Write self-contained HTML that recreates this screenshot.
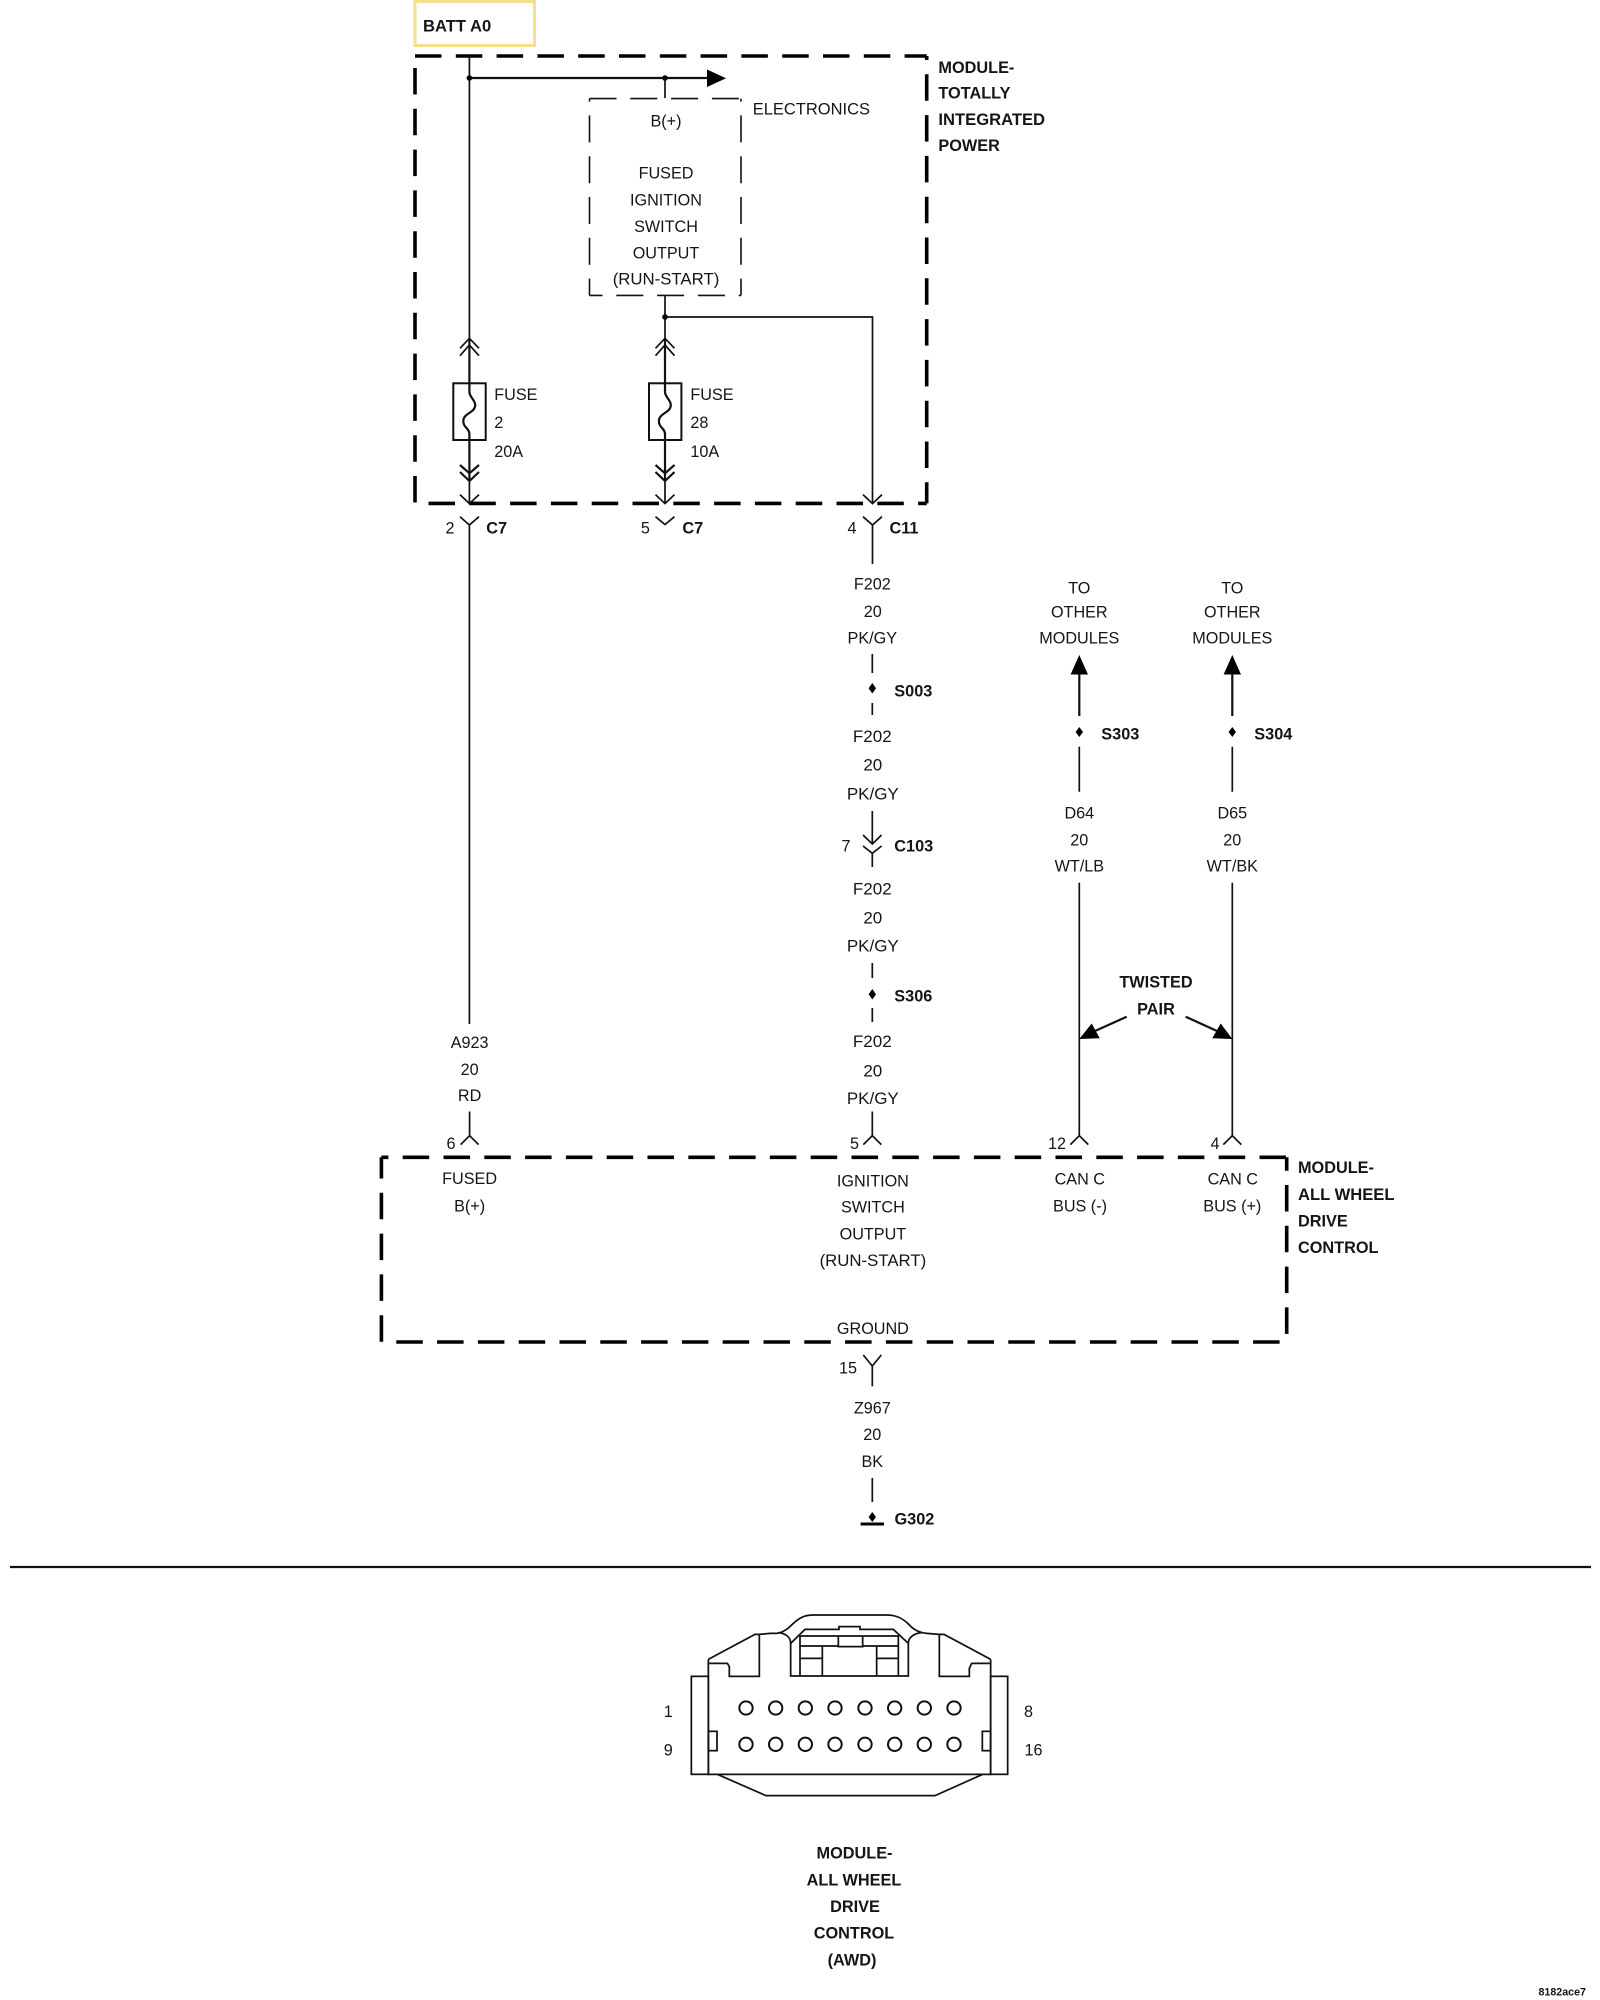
<!DOCTYPE html>
<html><head><meta charset="utf-8"><style>
html,body{margin:0;padding:0;background:#fff}
svg{display:block}
text{font-family:"Liberation Sans",sans-serif;font-size:16.2px;fill:#151515;transform:translateY(-.6px)}
.b{font-weight:bold;font-size:16.3px}
.c{text-anchor:middle}
.l{font-size:17px}
.r{font-size:16.8px}
.w{fill:none;stroke:#111;stroke-width:1.7}
.t{fill:none;stroke:#111;stroke-width:2.2}
.d{fill:none;stroke:#000;stroke-width:3.6;stroke-dasharray:26.5 14.3}
.e{fill:none;stroke:#111;stroke-width:1.6;stroke-dasharray:27 13.8}
.f{fill:#000;stroke:none}
</style></head><body>
<svg width="1600" height="2000" viewBox="0 0 1600 2000" xmlns="http://www.w3.org/2000/svg">
<rect width="1600" height="2000" fill="#fff"/>
<!-- BATT -->
<rect x="415" y="1.5" width="119.5" height="44" fill="none" stroke="#f6e08e" stroke-width="3"/>
<text class="b" x="423" y="32" style="font-size:16.6px">BATT A0</text>
<!-- Module top -->
<path class="d" d="M415 56H926.7"/>
<path class="d" d="M415 56V503.4" stroke-dashoffset="28.8"/>
<path class="d" d="M926.7 56V503.4" stroke-dashoffset="22.5"/>
<path class="d" d="M428.5 503.4H926.7"/>
<!-- Bus -->
<path class="w" d="M469.4 56V340"/>
<path class="t" d="M469.4 78H708"/>
<path class="f" d="M707 69.5L726 78.3L707 87Z"/>
<circle class="f" cx="469.4" cy="78" r="2.8"/>
<circle class="f" cx="665" cy="78" r="2.8"/>
<path class="w" d="M665 78V98"/>
<!-- Electronics box -->
<path class="e" d="M589.5 98.6H741" stroke-dashoffset="0"/>
<path class="e" d="M589.5 98.6V295.4" stroke-dashoffset="24"/>
<path class="e" d="M741 98.6V295.4" stroke-dashoffset="24"/>
<path class="e" d="M589.5 295.4H741" stroke-dashoffset="14"/>
<text x="752.7" y="115" style="font-size:16.5px">ELECTRONICS</text>
<text class="c" x="666" y="127">B(+)</text>
<text class="c" x="666" y="179">FUSED</text>
<text class="c" x="666" y="206">IGNITION</text>
<text class="c" x="666" y="232.5">SWITCH</text>
<text class="c" x="666" y="259">OUTPUT</text>
<text class="c r" x="666" y="285">(RUN-START)</text>
<!-- Wire 2 -->
<path class="w" d="M665 295V340"/>
<circle class="f" cx="665" cy="317" r="2.8"/>
<path class="w" d="M665 317H872.5V503"/>
<path class="w" d="M863 494.6L872.5 503.6L882 494.6"/>
<!-- chevrons/fuses -->
<path class="w" d="M460 348.3L469.4 338.3L479 348.3M460 355.7L469.4 345L479 355.7"/>
<path class="w" d="M655.5 348.3L665 338.3L674.5 348.3M655.5 355.7L665 345L674.5 355.7"/>
<path class="t" d="M469.4 340V384M665 340V384"/>
<rect x="453.3" y="383.3" width="32.4" height="56.7" fill="#fff" stroke="#111" stroke-width="2"/>
<rect x="649" y="383.3" width="32.4" height="56.7" fill="#fff" stroke="#111" stroke-width="2"/>
<path class="t" d="M469.4 383.3V392C469.4 397 475.2 400 475.2 405C475.2 413 463.3 413 463.3 421C463.3 428 469.4 428 469.4 434V440"/>
<path class="t" d="M665 383.3V392C665 397 670.8 400 670.8 405C670.8 413 658.9 413 658.9 421C658.9 428 665 428 665 434V440"/>
<path class="t" d="M469.4 440V480M665 440V480"/>
<path class="t" d="M460 465L469.4 473.3L479 465M460 472L469.4 481L479 472"/>
<path class="t" d="M655.5 465L665 473.3L674.5 465M655.5 472L665 481L674.5 472"/>
<path class="w" d="M469.4 481V503M665 481V503"/>
<path class="w" d="M460 494.6L469.4 503.6L479 494.6M655.5 494.6L665 503.6L674.5 494.6"/>
<text x="494.3" y="400.5">FUSE</text><text x="494.3" y="428.5">2</text><text x="494.3" y="457.5">20A</text>
<text x="690.4" y="400.5">FUSE</text><text x="690.4" y="428.5">28</text><text x="690.4" y="457.5">10A</text>
<!-- Module label -->
<text class="b" x="938.4" y="73.5">MODULE-</text><text class="b" x="938.4" y="99">TOTALLY</text><text class="b" x="938.4" y="125.5" style="font-size:16.6px">INTEGRATED</text><text class="b" x="938.4" y="151.5">POWER</text>
<!-- connectors below -->
<path class="w" d="M460 516.7L469.4 525L479 516.7M469.4 525V1024"/>
<path class="w" d="M655.5 516.7L665 524.5L674.5 516.7"/>
<path class="w" d="M863 516.7L872.5 525L882 516.7M872.5 525V564"/>
<text class="c" x="450" y="534">2</text><text class="b" x="486.3" y="534">C7</text>
<text class="c" x="645.4" y="534">5</text><text class="b" x="682.4" y="534">C7</text>
<text class="c" x="852" y="534">4</text><text class="b" x="889.5" y="534">C11</text>
<!-- F202 run -->
<text class="c" x="872.3" y="590">F202</text><text class="c" x="872.8" y="617.5">20</text><text class="c" x="872.3" y="644">PK/GY</text>
<path class="w" d="M872.3 654V673M872.3 703V715"/>
<path class="f" d="M872.3 683L876 688.3L872.3 693.5L868.6 688.3Z"/>
<text class="b" x="894.3" y="697">S003</text>
<text class="c l" x="872.3" y="742.7">F202</text><text class="c l" x="872.8" y="771">20</text><text class="c l" x="872.8" y="800">PK/GY</text>
<path class="w" d="M872.3 811V844M863 835L872.3 844L881.6 835M863 846L872.3 853.3L881.6 846M872.3 853.3V867"/>
<text class="c" x="846" y="852">7</text><text class="b" x="894.3" y="852">C103</text>
<text class="c l" x="872.3" y="895">F202</text><text class="c l" x="872.8" y="924.3">20</text><text class="c l" x="872.8" y="952">PK/GY</text>
<path class="w" d="M872.3 963V978M872.3 1008V1022"/>
<path class="f" d="M872.3 989L876 994.3L872.3 999.5L868.6 994.3Z"/>
<text class="b" x="894.3" y="1002">S306</text>
<text class="c l" x="872.3" y="1047.7">F202</text><text class="c l" x="872.8" y="1077">20</text><text class="c l" x="872.8" y="1104.6">PK/GY</text>
<path class="w" d="M872.3 1111.5V1135.7M863.3 1144.6L872.3 1135.7L881.3 1144.6"/>
<text class="c" x="854.5" y="1149.5">5</text>
<!-- A923 -->
<text class="c" x="469.6" y="1048.5">A923</text><text class="c" x="469.6" y="1075.5">20</text><text class="c" x="469.6" y="1101.5">RD</text>
<path class="w" d="M469.6 1111.5V1135.7M460.6 1144.6L469.6 1135.7L478.6 1144.6"/>
<text class="c" x="451" y="1149.5">6</text>
<!-- To other modules -->
<text class="c" x="1079.3" y="594">TO</text><text class="c" x="1079.3" y="618">OTHER</text><text class="c" x="1079.3" y="644">MODULES</text>
<text class="c" x="1232.3" y="594">TO</text><text class="c" x="1232.3" y="618">OTHER</text><text class="c" x="1232.3" y="644">MODULES</text>
<path class="f" d="M1079.3 655L1088 674.5H1070.6Z"/><path class="f" d="M1232.3 655L1241 674.5H1223.6Z"/>
<path class="t" d="M1079.3 674V716M1232.3 674V716"/>
<path class="f" d="M1079.3 727L1083 732L1079.3 737L1075.6 732Z"/>
<path class="f" d="M1232.3 727L1236 732L1232.3 737L1228.6 732Z"/>
<text class="b" x="1101.3" y="740">S303</text><text class="b" x="1254.3" y="740">S304</text>
<path class="w" d="M1079.3 746.7V791.7M1232.3 746.7V791.7"/>
<text class="c" x="1079.3" y="819">D64</text><text class="c" x="1079.3" y="846">20</text><text class="c" x="1079.3" y="872">WT/LB</text>
<text class="c" x="1232.3" y="819">D65</text><text class="c" x="1232.3" y="846">20</text><text class="c" x="1232.3" y="872">WT/BK</text>
<path class="w" d="M1079.3 882.7V1135.7M1070.3 1144.6L1079.3 1135.7L1088.3 1144.6"/>
<path class="w" d="M1232.3 882.7V1135.7M1223.3 1144.6L1232.3 1135.7L1241.3 1144.6"/>
<text class="b c" x="1156" y="988">TWISTED</text><text class="b c" x="1156" y="1015">PAIR</text>
<path class="f" d="M1079.3 1039L1099.7 1038.3L1091.7 1023.5Z"/><path class="f" d="M1232.3 1039L1212.3 1038.3L1220.7 1023.5Z"/>
<path class="t" d="M1095 1031L1126.7 1016.7M1217 1031L1185.7 1016.7"/>
<text class="c" x="1057" y="1149.5">12</text><text class="c" x="1215" y="1149.5">4</text>
<!-- AWD module -->
<path class="d" d="M381.4 1157.3H1287" stroke-dashoffset="19.5"/>
<path class="d" d="M381.4 1157.3V1342" stroke-dashoffset="5.3"/>
<path class="d" d="M396.3 1342H1286.7"/>
<path class="d" d="M1286.7 1157.3V1342" stroke-dashoffset="13.1"/>
<text class="c" x="469.6" y="1184.5">FUSED</text><text class="c" x="469.6" y="1212">B(+)</text>
<text class="c" x="872.9" y="1187">IGNITION</text><text class="c" x="872.9" y="1213">SWITCH</text><text class="c" x="872.9" y="1240">OUTPUT</text><text class="c r" x="872.9" y="1266.5">(RUN-START)</text>
<text class="c" x="872.9" y="1334.5">GROUND</text>
<text class="c" x="1079.8" y="1185">CAN C</text><text class="c" x="1080" y="1212">BUS (-)</text>
<text class="c" x="1232.8" y="1185">CAN C</text><text class="c" x="1232.3" y="1212">BUS (+)</text>
<text class="b" x="1298" y="1173.5">MODULE-</text><text class="b" x="1298" y="1200.5" style="font-size:16.6px">ALL WHEEL</text><text class="b" x="1298" y="1227">DRIVE</text><text class="b" x="1298" y="1253.5">CONTROL</text>
<!-- ground -->
<path class="w" d="M863.3 1355L872.3 1366L881.3 1355M872.3 1366V1386.4M872.3 1478V1502"/>
<text class="c" x="848" y="1374">15</text>
<text class="c" x="872.3" y="1414">Z967</text><text class="c" x="872.3" y="1440.5">20</text><text class="c" x="872.3" y="1467.5">BK</text>
<path class="f" d="M872.3 1512L876 1517L872.3 1522L868.6 1517Z"/>
<path d="M860.6 1524H884" stroke="#000" stroke-width="3" fill="none"/>
<text class="b" x="894.5" y="1525">G302</text>
<!-- separator -->
<path d="M10 1567H1591" stroke="#111" stroke-width="2.2" fill="none"/>
<!-- connector -->
<g transform="translate(640 1600) scale(.33333)" fill="none" stroke="#111" stroke-width="5.2">
<rect x="154" y="229" width="51" height="294"/><rect x="1052" y="229" width="51" height="294"/>
<path d="M205 178V523H1052V178"/>
<path d="M232 523L378 587H885L1028 523"/>
<path d="M205 178L345 103H358V229H268V200L262 190H205"/>
<path d="M1052 178L912 103H898V229H988V205L995 190H1052"/>
<path d="M358 103L390 100H410C430 98 445 85 460 70C480 52 495 45 520 45H740C765 45 785 52 805 72C820 88 835 98 860 100L898 103"/>
<path d="M415 98C435 100 452 110 452 130V228H805V130C805 110 825 100 845 98"/>
<path d="M452 130L495 88H597V80H660V88H760L805 130"/>
<path d="M480 228V108H775V228M595 108V140H668V108M480 138H595M668 138H775M547 228V138M710 228V138M480 175H547M710 175H775"/>
<rect x="205" y="394" width="26" height="58"/><rect x="1027" y="394" width="25" height="58"/>
<g stroke-width="6">
<circle cx="318" cy="324" r="20"/><circle cx="407" cy="324" r="20"/><circle cx="496" cy="324" r="20"/><circle cx="585" cy="324" r="20"/><circle cx="675" cy="324" r="20"/><circle cx="764" cy="324" r="20"/><circle cx="853" cy="324" r="20"/><circle cx="942" cy="324" r="20"/>
<circle cx="318" cy="433" r="20"/><circle cx="407" cy="433" r="20"/><circle cx="496" cy="433" r="20"/><circle cx="585" cy="433" r="20"/><circle cx="675" cy="433" r="20"/><circle cx="764" cy="433" r="20"/><circle cx="853" cy="433" r="20"/><circle cx="942" cy="433" r="20"/>
</g>
</g>
<text class="c" x="668.3" y="1717.5">1</text><text class="c" x="668.3" y="1756">9</text>
<text class="c" x="1028.5" y="1717.5">8</text><text class="c" x="1033.5" y="1756">16</text>
<!-- bottom label -->
<text class="b c" x="854.5" y="1859">MODULE-</text><text class="b c" x="854" y="1886">ALL WHEEL</text><text class="b c" x="855" y="1912.5">DRIVE</text><text class="b c" x="854" y="1939">CONTROL</text><text class="b c" x="852" y="1966">(AWD)</text>
<text x="1586" y="1996" style="font-size:10.7px;font-weight:bold;text-anchor:end">8182ace7</text>
</svg>
</body></html>
